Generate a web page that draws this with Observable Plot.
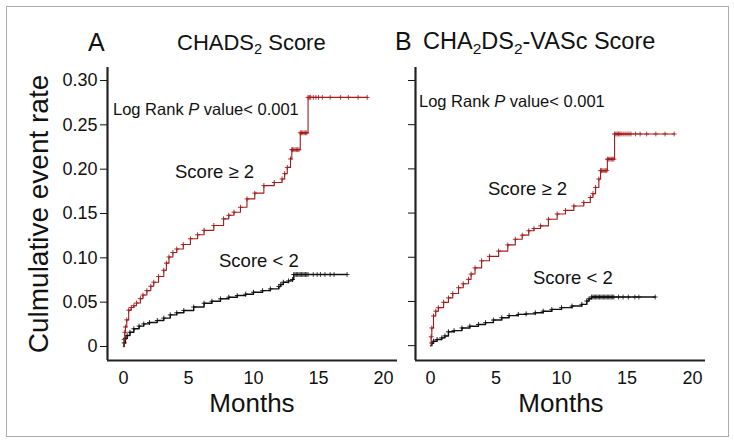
<!DOCTYPE html>
<html>
<head>
<meta charset="utf-8">
<script src="https://cdn.jsdelivr.net/npm/d3@7"></script>
<script src="https://cdn.jsdelivr.net/npm/@observablehq/plot@0.6"></script>
<style>
  html, body { margin: 0; padding: 0; background: #fff; }
  #wrap { position: relative; width: 734px; height: 443px; overflow: hidden; font-family: "Liberation Sans", Arial, sans-serif; }
  #border { position: absolute; left: 6px; top: 6px; width: 721px; height: 429px; border: 1px solid #ababab; }
  #left, #right { position: absolute; top: 0; }
  #left { left: 0; }
  #right { left: 400px; }
  #overlay { position: absolute; left: 0; top: 0; pointer-events: none; }
</style>
</head>
<body>
<div id="wrap">
  <div id="border"></div>
  <div id="left"></div>
  <div id="right"></div>
</div>
<script>
// ---- Data (months, cumulative event rate) ----
const xTicks = [0, 5, 10, 15, 20];
const yTicks = [0, 0.05, 0.10, 0.15, 0.20, 0.25, 0.30];

// Panel A: CHADS2 score
const chadsHighMonths = [0,0.05,0.1,0.15,0.25,0.4,0.6,0.8,1.0,1.3,1.5,1.8,2.1,2.33,2.7,3.1,3.3,3.5,3.8,4.1,4.6,5.15,5.7,6.2,6.95,7.7,8.1,8.5,9.0,9.5,10.1,10.8,11.6,12.2,12.4,12.6,12.85,12.95,13.6,14.2,18.75];
const chadsHighRate   = [0,0.008,0.016,0.022,0.030,0.041,0.044,0.046,0.049,0.054,0.058,0.063,0.068,0.0725,0.079,0.086,0.094,0.101,0.106,0.110,0.115,0.1215,0.126,0.131,0.1365,0.144,0.148,0.1515,0.157,0.1665,0.173,0.1815,0.185,0.189,0.195,0.202,0.2115,0.222,0.241,0.281,0.281];
const chadsHighCensor = [13.0,13.1,13.2,13.3,13.4,13.5,13.7,13.8,13.9,14.0,14.1,14.3,14.4,14.6,14.8,15.0,15.3,15.9,16.7,17.3,18.05,18.75];

const chadsLowMonths = [0,0.05,0.15,0.28,0.5,0.8,1.2,1.56,2.0,2.6,3.1,3.6,4.1,4.64,5.4,6.2,6.8,7.46,8.1,8.75,9.4,10.0,10.7,11.3,11.95,12.1,12.3,12.7,13.0,13.1,17.2];
const chadsLowRate   = [0,0.004,0.009,0.0124,0.016,0.020,0.023,0.0255,0.027,0.0293,0.032,0.0357,0.038,0.0406,0.0445,0.0488,0.051,0.0538,0.0556,0.0575,0.059,0.0612,0.063,0.065,0.0677,0.070,0.0725,0.074,0.0756,0.0812,0.0812];
const chadsLowCensor = [13.2,13.3,13.4,13.5,13.6,13.7,13.8,13.9,14.0,14.1,14.2,14.6,14.9,15.15,15.5,15.9,16.2,17.2];

// Panel B: CHA2DS2-VASc score
const vascHighMonths = [0,0.05,0.1,0.23,0.4,0.6,1.0,1.37,1.7,2.14,2.5,2.9,3.1,3.4,3.9,4.5,5.2,5.9,6.47,7.0,7.5,7.9,8.4,9.0,9.67,10.3,10.94,11.7,12.2,12.4,12.6,12.85,12.98,13.5,14.05,18.6];
const vascHighRate   = [0,0.010,0.020,0.0335,0.039,0.043,0.049,0.054,0.059,0.0655,0.070,0.075,0.081,0.088,0.096,0.101,0.107,0.114,0.1204,0.125,0.130,0.1325,0.1355,0.143,0.149,0.153,0.158,0.162,0.1676,0.172,0.179,0.1885,0.198,0.211,0.2395,0.2395];
const vascHighCensor = [13.05,13.15,13.25,13.35,13.45,13.6,13.7,13.8,13.9,14.0,14.15,14.25,14.35,14.45,14.55,14.7,14.85,15.0,15.15,15.3,15.65,16.0,16.5,17.2,17.9,18.6];

const vascLowMonths = [0,0.1,0.23,0.5,0.86,1.1,1.37,1.8,2.4,3.0,3.66,4.2,4.8,5.44,6.0,6.7,7.3,8.0,8.6,9.26,10.0,10.8,11.55,11.93,12.1,12.3,17.15];
const vascLowRate   = [0,0.003,0.005,0.007,0.0088,0.011,0.0157,0.017,0.020,0.022,0.024,0.026,0.029,0.0316,0.034,0.0354,0.036,0.0372,0.039,0.041,0.043,0.0448,0.0467,0.0505,0.053,0.055,0.055];
const vascLowCensor = [12.4,12.5,12.6,12.7,12.8,12.9,13.0,13.1,13.2,13.3,13.4,13.5,13.6,13.7,13.8,13.9,14.0,14.35,14.7,15.1,15.6,15.9,17.15];

// ---- helpers ----
const RED = "#a31c1c";
const BLACK = "#111";
const FONT = "'Liberation Sans', Arial, sans-serif";

function curve(months, rate) { return months.map((m, i) => ({m, r: rate[i]})); }
function censorPts(c, times) {
  return times.map(t => {
    let r = 0;
    for (const p of c) if (p.m <= t) r = p.r;
    return {m: t, r};
  });
}

function kmMarks(c, cens, color, lw) {
  return [
    Plot.line(c, {x: "m", y: "r", curve: "step-after", stroke: color, strokeWidth: lw}),
    Plot.dot(c.slice(1, -1), {x: "m", y: "r", symbol: "plus", r: 1.7, stroke: color, strokeWidth: 0.9, fill: "none"}),
    Plot.dot(censorPts(c, cens), {x: "m", y: "r", symbol: "plus", r: 1.7, stroke: color, strokeWidth: 0.8, fill: "none"})
  ];
}

function panel(opts) {
  const {width, ml, mr, xd, yd, labels, hi, lo} = opts;
  return Plot.plot({
    width, height: 443,
    marginLeft: ml, marginRight: mr, marginTop: 67, marginBottom: 83,
    style: {fontFamily: FONT, fontSize: "18px", color: "#111", background: "transparent", overflow: "visible"},
    x: {domain: xd, ticks: xTicks, tickSize: 0, tickPadding: 11, label: null},
    y: {domain: yd, ticks: yTicks, tickSize: 7, tickPadding: 3, label: null,
        tickFormat: labels ? (d => d === 0 ? "0" : d.toFixed(2)) : (() => "")},
    marks: [
      ...kmMarks(lo.c, lo.cens, BLACK, 1.4),
      ...kmMarks(hi.c, hi.cens, RED, 1.1),
      Plot.ruleX([xd[0]], {stroke: "#222", strokeWidth: 2.2}),
      Plot.ruleY([yd[0]], {stroke: "#222", strokeWidth: 2.2})
    ]
  });
}

const chadsHigh = curve(chadsHighMonths, chadsHighRate);
const chadsLow = curve(chadsLowMonths, chadsLowRate);
const vascHigh = curve(vascHighMonths, vascHighRate);
const vascLow = curve(vascLowMonths, vascLowRate);

document.getElementById("left").appendChild(panel({
  width: 400, ml: 107, mr: 3, xd: [-1.23, 21.08], yd: [-0.0158, 0.3147], labels: true,
  hi: {c: chadsHigh, cens: chadsHighCensor}, lo: {c: chadsLow, cens: chadsLowCensor}
}));
document.getElementById("right").appendChild(panel({
  width: 334, ml: 15, mr: 29, xd: [-1.145, 20.99], yd: [-0.0168, 0.3147], labels: false,
  hi: {c: vascHigh, cens: vascHighCensor}, lo: {c: vascLow, cens: vascLowCensor}
}));

// ---- text overlay ----
const svg = d3.select("#wrap").append("svg").attr("id", "overlay")
  .attr("width", 734).attr("height", 443)
  .style("font-family", FONT).attr("fill", "#111");

function txt(x, y, size, parts, anchor = "start") {
  const t = svg.append("text").attr("x", x).attr("y", y).attr("font-size", size).attr("text-anchor", anchor);
  for (const p of parts) {
    const s = t.append("tspan").text(p.t);
    if (p.sub) s.attr("font-size", size * 0.66).attr("dy", size * 0.22);
    if (p.up) s.attr("dy", -size * 0.22);
    if (p.it) s.attr("font-style", "italic");
  }
  return t;
}

txt(88, 51, 25, [{t: "A"}]);
txt(177, 49.5, 22, [{t: "CHADS"}, {t: "2", sub: true}, {t: " Score", up: true}]);
txt(395, 50, 25, [{t: "B"}]);
txt(423, 49, 23.5, [{t: "CHA"}, {t: "2", sub: true}, {t: "DS", up: true}, {t: "2", sub: true}, {t: "-VASc Score", up: true}]);

txt(113, 115, 16.5, [{t: "Log Rank "}, {t: "P", it: true}, {t: " value< 0.001"}]);
txt(419, 107, 16.5, [{t: "Log Rank "}, {t: "P", it: true}, {t: " value< 0.001"}]);

txt(175, 178, 18.5, [{t: "Score \u2265 2"}]);
txt(219, 267, 18.5, [{t: "Score < 2"}]);
txt(488, 195, 18.5, [{t: "Score \u2265 2"}]);
txt(533, 284, 18.5, [{t: "Score < 2"}]);

txt(252, 412, 26, [{t: "Months"}], "middle");
txt(561, 412, 26, [{t: "Months"}], "middle");
txt(0, 0, 28, [{t: "Culmulative event rate"}], "middle").attr("transform", "translate(48,214) rotate(-90)");
</script>
</body>
</html>
